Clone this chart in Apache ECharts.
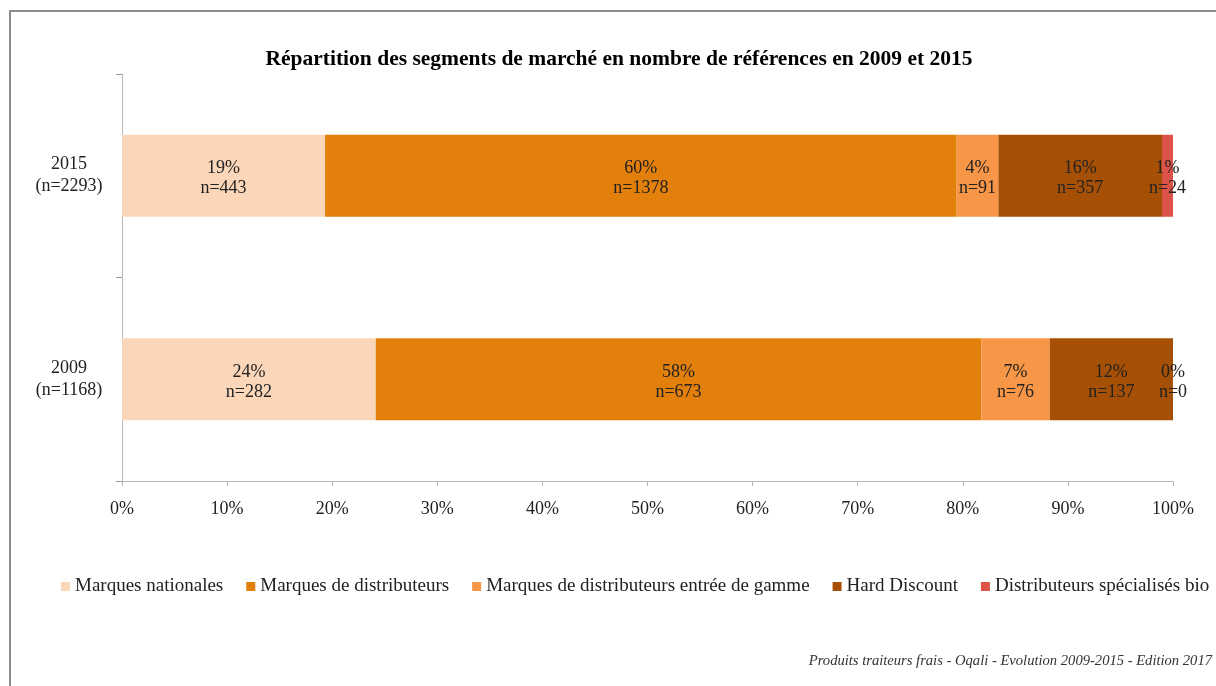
<!DOCTYPE html>
<html>
<head>
<meta charset="utf-8">
<script src="https://cdn.jsdelivr.net/npm/echarts@6/dist/echarts.min.js"></script>
<style>
  html, body { margin: 0; padding: 0; background: #fff; }
  #chart { width: 1216px; height: 686px; }
</style>
</head>
<body>
<div id="chart"></div>
<script>
// données
const years = ["2009", "2015"];
const totals = [1168, 2293];
const segments = [
  "Marques nationales",
  "Marques de distributeurs",
  "Marques de distributeurs entrée de gamme",
  "Hard Discount",
  "Distributeurs spécialisés bio",
];
// nombre de références par segment, [2009, 2015]
const marquesNationales = [282, 443];
const marquesDistributeurs = [673, 1378];
const mddEntreeGamme = [76, 91];
const hardDiscount = [137, 357];
const bio = [0, 24];
const xTicks = [0, 10, 20, 30, 40, 50, 60, 70, 80, 90, 100];

const colors = ["#fbd6b8", "#e3800b", "#f79646", "#a65005", "#de5349"];
const counts = [marquesNationales, marquesDistributeurs, mddEntreeGamme, hardDiscount, bio];
const font = "Liberation Serif";
const textColor = "#222";
const axisColor = "#b8b8b8";

const series = segments.map((name, i) => ({
  name: name,
  type: "bar",
  stack: "total",
  barWidth: 82,
  itemStyle: { color: colors[i] },
  label: {
    show: true,
    position: "inside",
    offset: [0, 3],
    color: textColor,
    fontFamily: font,
    fontSize: 18,
    lineHeight: 20,
    formatter: (p) => Math.round(p.value) + "%\nn=" + counts[i][p.dataIndex],
  },
  data: counts[i].map((v, j) => (v / totals[j]) * 100),
}));

const chart = echarts.init(document.getElementById("chart"));
chart.setOption({
  animation: false,
  color: colors,
  title: [
    {
      text: "Répartition des segments de marché en nombre de références en 2009 et 2015",
      left: 614,
      top: 43,
      textAlign: "center",
      textStyle: {
        fontFamily: font,
        fontWeight: "bold",
        fontSize: 21.5,
        color: "#000",
      },
    },
    {
      text: "Produits traiteurs frais - Oqali - Evolution 2009-2015 - Edition 2017",
      right: -1,
      top: 649,
      textStyle: {
        fontFamily: font,
        fontStyle: "italic",
        fontWeight: "normal",
        fontSize: 14.6,
        color: "#333",
      },
    },
  ],
  graphic: [
    {
      type: "rect",
      shape: { x: 10, y: 11, width: 1300, height: 800 },
      style: { fill: "none", stroke: "#8c8c8c", lineWidth: 2 },
      silent: true,
    },
  ],
  legend: {
    left: 56,
    top: 572,
    icon: "rect",
    itemWidth: 9,
    itemHeight: 9,
    itemGap: 23,
    textStyle: { fontFamily: font, fontSize: 19, color: textColor },
    data: segments,
  },
  grid: { left: 122, right: 43, top: 74, bottom: 205 },
  xAxis: {
    type: "value",
    min: xTicks[0],
    max: xTicks[xTicks.length - 1],
    interval: 10,
    axisLine: { show: true, lineStyle: { color: axisColor } },
    axisTick: { show: true, length: 5, lineStyle: { color: axisColor } },
    splitLine: { show: false },
    axisLabel: {
      fontFamily: font,
      fontSize: 18,
      color: textColor,
      margin: 19,
      formatter: "{value}%",
    },
  },
  yAxis: {
    type: "category",
    data: years.map((y, i) => y + "\n(n=" + totals[i] + ")"),
    axisLine: { show: true, lineStyle: { color: axisColor } },
    axisTick: { show: true, length: 6, lineStyle: { color: "#999" } },
    axisLabel: {
      fontFamily: font,
      fontSize: 18,
      lineHeight: 22,
      color: textColor,
      align: "center",
      margin: 53,
    },
  },
  series: series,
});
</script>
</body>
</html>
